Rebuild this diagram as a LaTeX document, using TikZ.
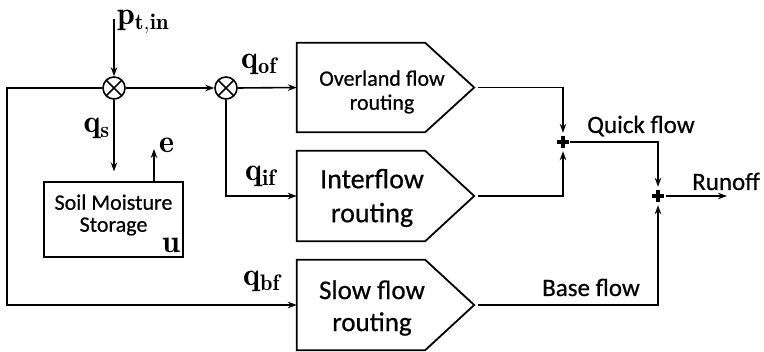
\documentclass[tikz,border=0pt]{standalone}
\usepackage{fix-cm}
\usepackage{fontspec}
\newfontfamily\calib[FakeBold=0.6]{Carlito}
\usetikzlibrary{arrows.meta,calc}
\begin{document}
\begin{tikzpicture}[x=1pt,y=-1pt,
  mainline/.style={line width=1.6pt},
  thinline/.style={line width=1.1pt},
  arr/.style={-{Stealth[length=9pt,width=6.5pt]}},
  boxline/.style={line width=1.8pt, line join=miter},
  routebox/.style={minimum width=177pt, minimum height=89pt, inner sep=0pt},
  mult/.style={circle, draw, line width=1.6pt, minimum size=22pt, inner sep=0pt,
    path picture={\draw[line width=1.6pt]
      (path picture bounding box.south west) -- (path picture bounding box.north east)
      (path picture bounding box.north west) -- (path picture bounding box.south east);}},
  plusnode/.style={minimum size=12pt, inner sep=0pt},
  mlab/.style={font=\fontsize{32pt}{36pt}\selectfont, inner sep=0pt},
  btext/.style={align=center, inner sep=0pt},
  slab/.style={font=\calib\fontsize{25pt}{28pt}\selectfont, inner sep=0pt, anchor=base west}
]
\useasboundingbox (0,0) rectangle (764,352);

% summation circles
\node[mult] (c1) at (114,88) {};
\node[mult] (c2) at (226,88) {};

% routing boxes
\node[routebox] (ov) at (385.5,87.5) {};
\node[routebox, minimum height=90pt] (inf) at (385.5,196) {};
\node[routebox, minimum height=90pt] (slow) at (385.5,305) {};
\foreach \b in {ov,inf,slow}{
  \draw[boxline] (\b.north west) -- ([xshift=-49pt]\b.north east) -- (\b.east)
    -- ([xshift=-49pt]\b.south east) -- (\b.south west) -- cycle;
}
\node[btext, font=\calib\fontsize{22pt}{24pt}\selectfont] (ovt) at (382,92) {Overland flow\\routing};
\node[btext, font=\calib\fontsize{28pt}{34pt}\selectfont] (inft) at (372,198) {Interflow\\routing};
\node[btext, font=\calib\fontsize{27pt}{32pt}\selectfont] (slowt) at (372,308) {Slow flow\\routing};

% soil moisture storage
\node[draw, line width=1.2pt, minimum width=139pt, minimum height=75pt, inner sep=0pt] (soil) at (113.5,219.5) {};
\node[btext, font=\calib\fontsize{22pt}{22pt}\selectfont] (soilt) at (113.5,215) {Soil Moisture\\Storage};
\node[mlab, anchor=base east] (u) at (180,253) {$\mathbf{u}$};

% plus junctions
\node[plusnode] (p1) at (563,142) {};
\node[plusnode] (p2) at (658,196) {};
\foreach \p in {p1,p2}{
  \draw[line width=4pt] (\p.west) -- (\p.east);
  \draw[line width=4pt] (\p.north) -- (\p.south);
}

% coordinates for free ends and corners
\coordinate (ptop) at (114,19);
\coordinate (lc) at (7,88);
\coordinate (eTop) at (154,149);
\coordinate (roff) at (727,196);

% connectors
\draw[mainline,arr] (ptop) -- (c1.north);
\draw[mainline,arr] (c1.east) -- (c2.west);
\draw[mainline,arr] (c2.east) -- (ov.west);
\draw[mainline,arr] (c1.west) -- (lc) |- (slow.west);
\draw[mainline,arr,shorten >=10pt] (c1.south) -- (c1.south |- soil.north);
\draw[thinline,arr] (soil.north -| eTop) -- (eTop);
\draw[thinline,arr] (c2.south) |- (inf.west);
\draw[thinline,arr,shorten >=3pt] ([xshift=4pt]ov.east) -| (p1.north);
\draw[thinline,arr,shorten >=3pt] ([xshift=4pt]inf.east) -| (p1.south);
\draw[mainline,arr,shorten >=3pt,shorten <=1pt] (p1.east) -| (p2.north);
\draw[mainline,arr,shorten >=3pt] ([xshift=4pt]slow.east) -| (p2.south);
\draw[thinline,arr,shorten <=2pt] (p2.east) -- (roff);

% labels
\node[mlab, anchor=base west] (lp) at (117,25) {$\mathbf{p}_{\mathbf{t,in}}$};
\node[mlab, anchor=base east] (lqs) at (110,133) {$\mathbf{q}_{\mathbf{s}}$};
\node[mlab, anchor=base west] (le) at (159,153) {$\mathbf{e}$};
\node[mlab, anchor=base west] (lqof) at (241,69) {$\mathbf{q}_{\mathbf{of}}$};
\node[mlab, anchor=base west] (lqif) at (245,181) {$\mathbf{q}_{\mathbf{if}}$};
\node[mlab, anchor=base west] (lqbf) at (243,286) {$\mathbf{q}_{\mathbf{bf}}$};
\node[slab] (lquick) at (587,133) {Quick flow};
\node[slab] (lrun) at (692,190) {Runoff};
\node[slab] (lbase) at (542,296) {Base flow};
\end{tikzpicture}
\end{document}
